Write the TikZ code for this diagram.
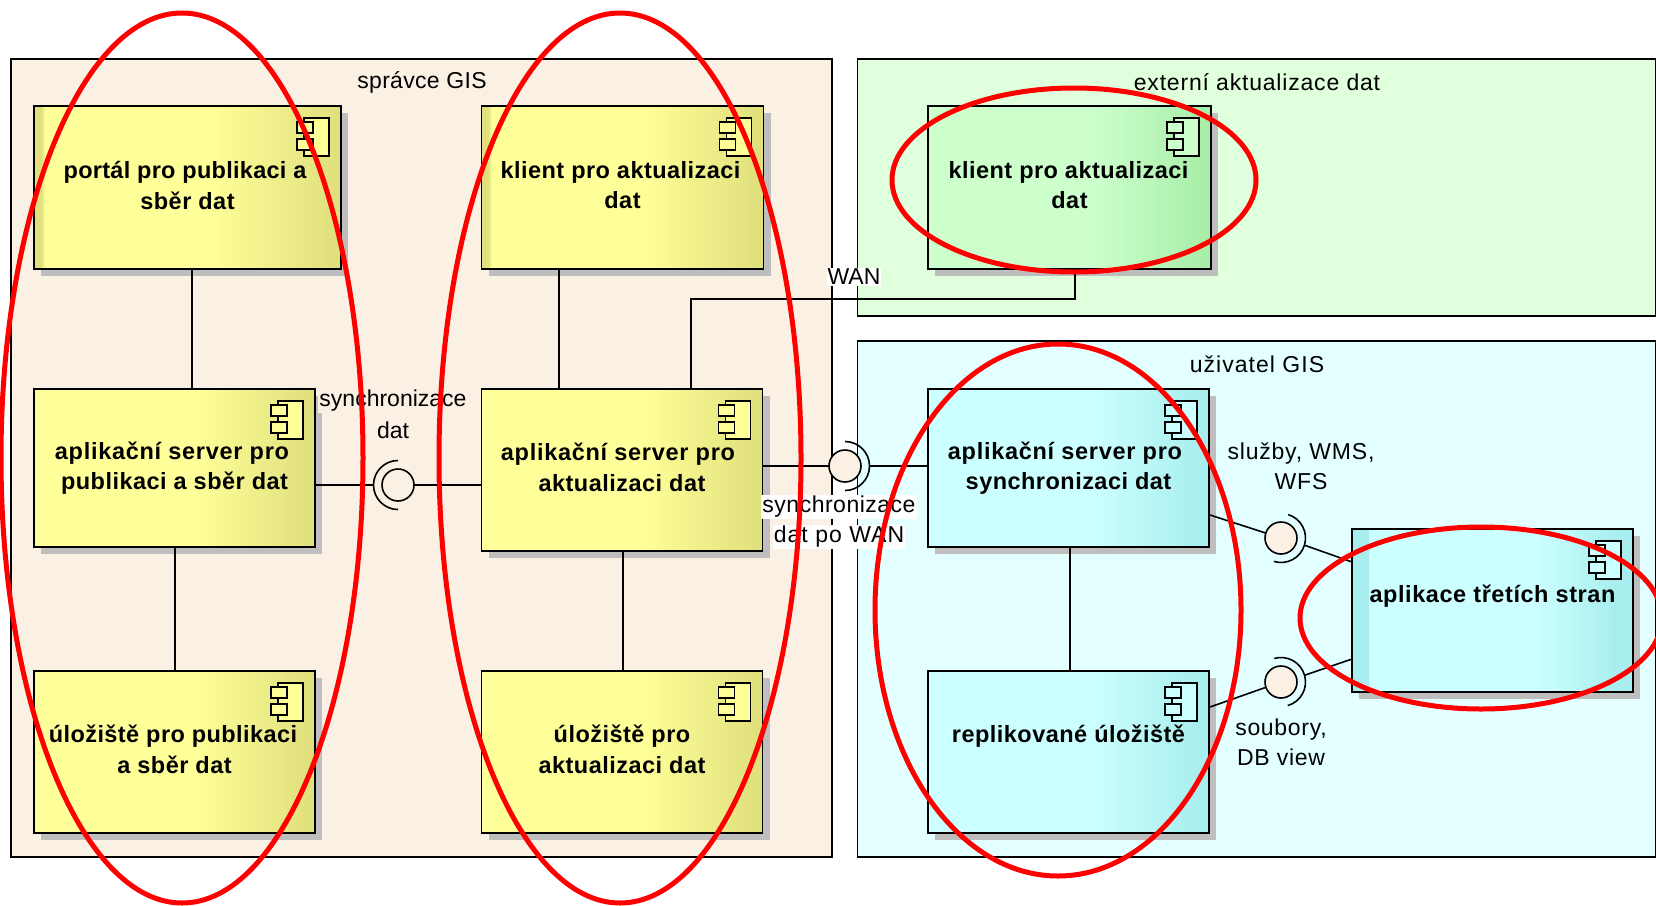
\documentclass[tikz,border=0pt]{standalone}
\usepackage{fontspec}
\setmainfont{Liberation Sans}
\usetikzlibrary{shapes.geometric,shadows}
\definecolor{yL}{HTML}{FFFF99}\definecolor{yD}{HTML}{E0E07D}
\definecolor{cL}{HTML}{CCFFFF}\definecolor{cD}{HTML}{A8EEEE}
\definecolor{gL}{HTML}{CCFFCC}\definecolor{gD}{HTML}{A8EEA8}
\definecolor{bgO}{HTML}{FAF0E3}\definecolor{bgG}{HTML}{E0FFDC}\definecolor{bgC}{HTML}{E3FFFF}
\definecolor{shad}{HTML}{BEBEBE}\definecolor{red1}{HTML}{FF0000}
\pgfdeclarehorizontalshading{yelS}{100bp}{color(0bp)=(yL);color(54bp)=(yL);color(74bp)=(yD);color(100bp)=(yD)}
\pgfdeclarehorizontalshading{yelT}{100bp}{color(0bp)=(yD);color(26.2bp)=(yD);color(26.8bp)=(yL);color(54bp)=(yL);color(74bp)=(yD);color(100bp)=(yD)}
\pgfdeclarehorizontalshading{cyaS}{100bp}{color(0bp)=(cL);color(54bp)=(cL);color(74bp)=(cD);color(100bp)=(cD)}
\pgfdeclarehorizontalshading{greS}{100bp}{color(0bp)=(gL);color(54bp)=(gL);color(74bp)=(gD);color(100bp)=(gD)}
\pgfdeclarehorizontalshading{thiS}{100bp}{color(0bp)=(cD);color(27.9bp)=(cD);color(28bp)=(cL);color(58bp)=(cL);color(72bp)=(cD);color(100bp)=(cD)}
\newcommand{\cmpl}[3]{\rule{0pt}{17pt}#2\\#3\rule[-\dimexpr 6pt+#1pt\relax]{0pt}{\dimexpr 6pt+#1pt\relax}}
\newcommand{\lsp}[1]{\addfontfeature{LetterSpace=#1}}
\newcommand{\tr}[1]{\rule{#1pt}{0pt}}
\tikzset{
  x=1pt,y=-1pt,
  frame/.style={draw=black,line width=1.9pt,rectangle,anchor=north west,inner sep=0pt,outer sep=0pt},
  comp/.style={rectangle,anchor=north west,draw=black,line width=1.9pt,inner sep=0pt,outer sep=0pt,
    align=center,font=\fontsize{23.5}{30.5}\selectfont\bfseries\lsp{2},
    general shadow={shadow xshift=7pt,shadow yshift=-7pt,fill=shad}},
  wire/.style={draw=black,line width=1.6pt},
  lolly/.style={circle,draw=black,line width=1.6pt,minimum size=32pt,inner sep=0pt,outer sep=0pt},
  lblcap/.style={font=\fontsize{23}{30}\selectfont,inner sep=1pt,align=center},
  ring/.style={ellipse,draw=red1,line width=5pt,inner sep=0pt,outer sep=0pt,fill=none},
}
\newcommand{\cicon}[2]{%
  \draw[black,line width=1.6pt,fill=#2] ([shift={(-37pt,-12pt)}]#1.north east) rectangle ([shift={(-12pt,-50pt)}]#1.north east);
  \draw[black,line width=1.6pt,fill=#2] ([shift={(-44pt,-16pt)}]#1.north east) rectangle ([shift={(-28pt,-27pt)}]#1.north east);
  \draw[black,line width=1.6pt,fill=#2] ([shift={(-44pt,-33pt)}]#1.north east) rectangle ([shift={(-28pt,-44pt)}]#1.north east);
}
\newcommand{\socket}[2]{%
  \draw[wire] ([shift={(#2-90:24.5pt)}]#1.center) arc[start angle=#2-90,end angle=#2+90,radius=24.5pt];
}
\begin{document}
\begin{tikzpicture}
\useasboundingbox (0,0) rectangle (1656,905);
% frames
\node[frame,fill=bgO,minimum width=821pt,minimum height=798pt] (fA) at (11,59) {};
\node[frame,fill=bgG,minimum width=798pt,minimum height=257pt] (fB) at (857.5,59) {};
\node[frame,fill=bgC,minimum width=798pt,minimum height=516pt] (fC) at (857.5,341) {};
\node[font=\fontsize{23}{30}\selectfont\lsp{1.3}] (tA) at (422,82) {správce GIS};
\node[font=\fontsize{23}{30}\selectfont\lsp{3.5}] (tB) at (1257,82) {externí aktualizace dat};
\node[font=\fontsize{23}{30}\selectfont\lsp{4.5}] (tC) at (1257,364) {uživatel GIS};
% components
\node[comp,shading=yelT,minimum width=307pt,minimum height=163pt] (portal) at (34,106) {\cmpl{-1.4}{\lsp{1.2}portál pro publikaci a\tr{5}}{sběr dat}};
\node[comp,shading=yelT,minimum width=282pt,minimum height=163pt] (klient) at (481.5,106) {\cmpl{-1.4}{\lsp{1.9}klient pro aktualizaci\tr{4}}{dat}};
\node[comp,shading=yelS,minimum width=281pt,minimum height=158pt] (appA) at (34,389) {\cmpl{-4.3}{\lsp{3}aplikační server pro\tr{5}}{publikaci a sběr dat}};
\node[comp,shading=yelS,minimum width=281pt,minimum height=162pt] (appB) at (481.5,389) {\cmpl{0}{\lsp{3}aplikační server pro\tr{8}}{aktualizaci dat}};
\node[comp,shading=yelS,minimum width=281pt,minimum height=162pt] (ulA) at (34,671) {\cmpl{0}{\lsp{1.8}úložiště pro publikaci\tr{3}}{a sběr dat}};
\node[comp,shading=yelS,minimum width=281pt,minimum height=162pt] (ulB) at (481.5,671) {\cmpl{0}{úložiště pro}{aktualizaci dat}};
\node[comp,shading=greS,minimum width=283pt,minimum height=163pt] (klientB) at (928,106) {\cmpl{-1.4}{\lsp{1.9}klient pro aktualizaci\tr{2}}{dat}};
\node[comp,shading=cyaS,minimum width=281pt,minimum height=158pt] (appC) at (928,389) {\cmpl{-4.3}{\lsp{3}aplikační server pro\tr{7}}{synchronizaci dat}};
\node[comp,shading=cyaS,minimum width=281pt,minimum height=162pt] (repl) at (928,671) {\cmpl{0.8}{replikované úložiště}{}};
\node[comp,shading=thiS,minimum width=281pt,minimum height=163pt] (third) at (1352,529) {\cmpl{-2.4}{\lsp{2.4}aplikace třetích stran}{}};
\cicon{portal}{yL}\cicon{klient}{yL}\cicon{appA}{yL}\cicon{appB}{yL}\cicon{ulA}{yL}\cicon{ulB}{yL}
\cicon{klientB}{gL}\cicon{appC}{cL}\cicon{repl}{cL}\cicon{third}{cL}
% plain connectors
\coordinate (p1) at (192,0);\coordinate (p2) at (559,0);\coordinate (p3) at (175,0);\coordinate (p4) at (623,0);\coordinate (p5) at (1070,0);
\coordinate (w1) at (1075,299);\coordinate (w2) at (691,299);
\draw[wire] (portal.south -| p1) -- (appA.north -| p1);
\draw[wire] (klient.south -| p2) -- (appB.north -| p2);
\draw[wire] (appA.south -| p3) -- (ulA.north -| p3);
\draw[wire] (appB.south -| p4) -- (ulB.north -| p4);
\draw[wire] (appC.south -| p5) -- (repl.north -| p5);
\draw[wire] (klientB.south -| w1) -- (w1) -- (w2) -- (appB.north -| w2);
% lollipops
\coordinate (e1) at (1210,515);\coordinate (e2) at (1352,562);\coordinate (e3) at (1210,707);\coordinate (e4) at (1352,659);
\coordinate (cCp) at (1281,538);\coordinate (cDp) at (1281,682);
\draw[wire] (e1) -- (cCp);
\draw[wire] (e3) -- (cDp);
\node[lolly,fill=bgO] (cA) at (398,485) {};
\node[lolly,fill=bgO] (cB) at (845,466) {};
\node[lolly,fill=bgO] (cC) at (cCp) {};
\node[lolly,fill=bgO] (cD) at (cDp) {};
\socket{cA}{180}\socket{cB}{0}\socket{cC}{-17}\socket{cD}{16}
\draw[wire] (cA.east) -- (appB.west |- cA);
\draw[wire] ([shift={(180:24.5pt)}]cA.center) -- (appA.east |- cA);
\draw[wire] (cB.west) -- (appB.east |- cB);
\draw[wire] ([shift={(0:24.5pt)}]cB.center) -- (appC.west |- cB);
\draw[wire] ([shift={(-17:24.5pt)}]cC.center) -- (e2);
\draw[wire] ([shift={(16:24.5pt)}]cD.center) -- (e4);
% labels
\node[lblcap,fill=white,inner sep=1pt] (lW) at (854,277) {WAN};
\node[lblcap,fill=bgO] (lS1) at (393,401) {synchronizace};
\node[lblcap] (lS2) at (393,430) {dat};
\node[lblcap,fill=white,font=\fontsize{23}{30}\selectfont\lsp{2.2}] (lP1) at (839,507) {synchronizace};
\node[lblcap,fill=white,font=\fontsize{23}{30}\selectfont\lsp{4.5}] (lP2) at (839,537) {dat po WAN};
\node[lblcap,font=\fontsize{23}{30}\selectfont\lsp{3.5}] (lQ) at (1301,466) {služby, WMS,\\WFS};
\node[lblcap,font=\fontsize{23}{30}\selectfont\lsp{3}] (lR) at (1281,742) {soubory,\\DB view};
% rings
\node[ring,minimum width=362pt,minimum height=890pt] (r1) at (182,458) {};
\node[ring,minimum width=362pt,minimum height=890pt] (r2) at (620,458) {};
\node[ring,minimum width=366pt,minimum height=532pt] (r3) at (1058,610) {};
\node[ring,minimum width=364pt,minimum height=184pt] (r4) at (1074,180) {};
\node[ring,minimum width=362pt,minimum height=182pt] (r5) at (1481,618) {};
\end{tikzpicture}
\end{document}
